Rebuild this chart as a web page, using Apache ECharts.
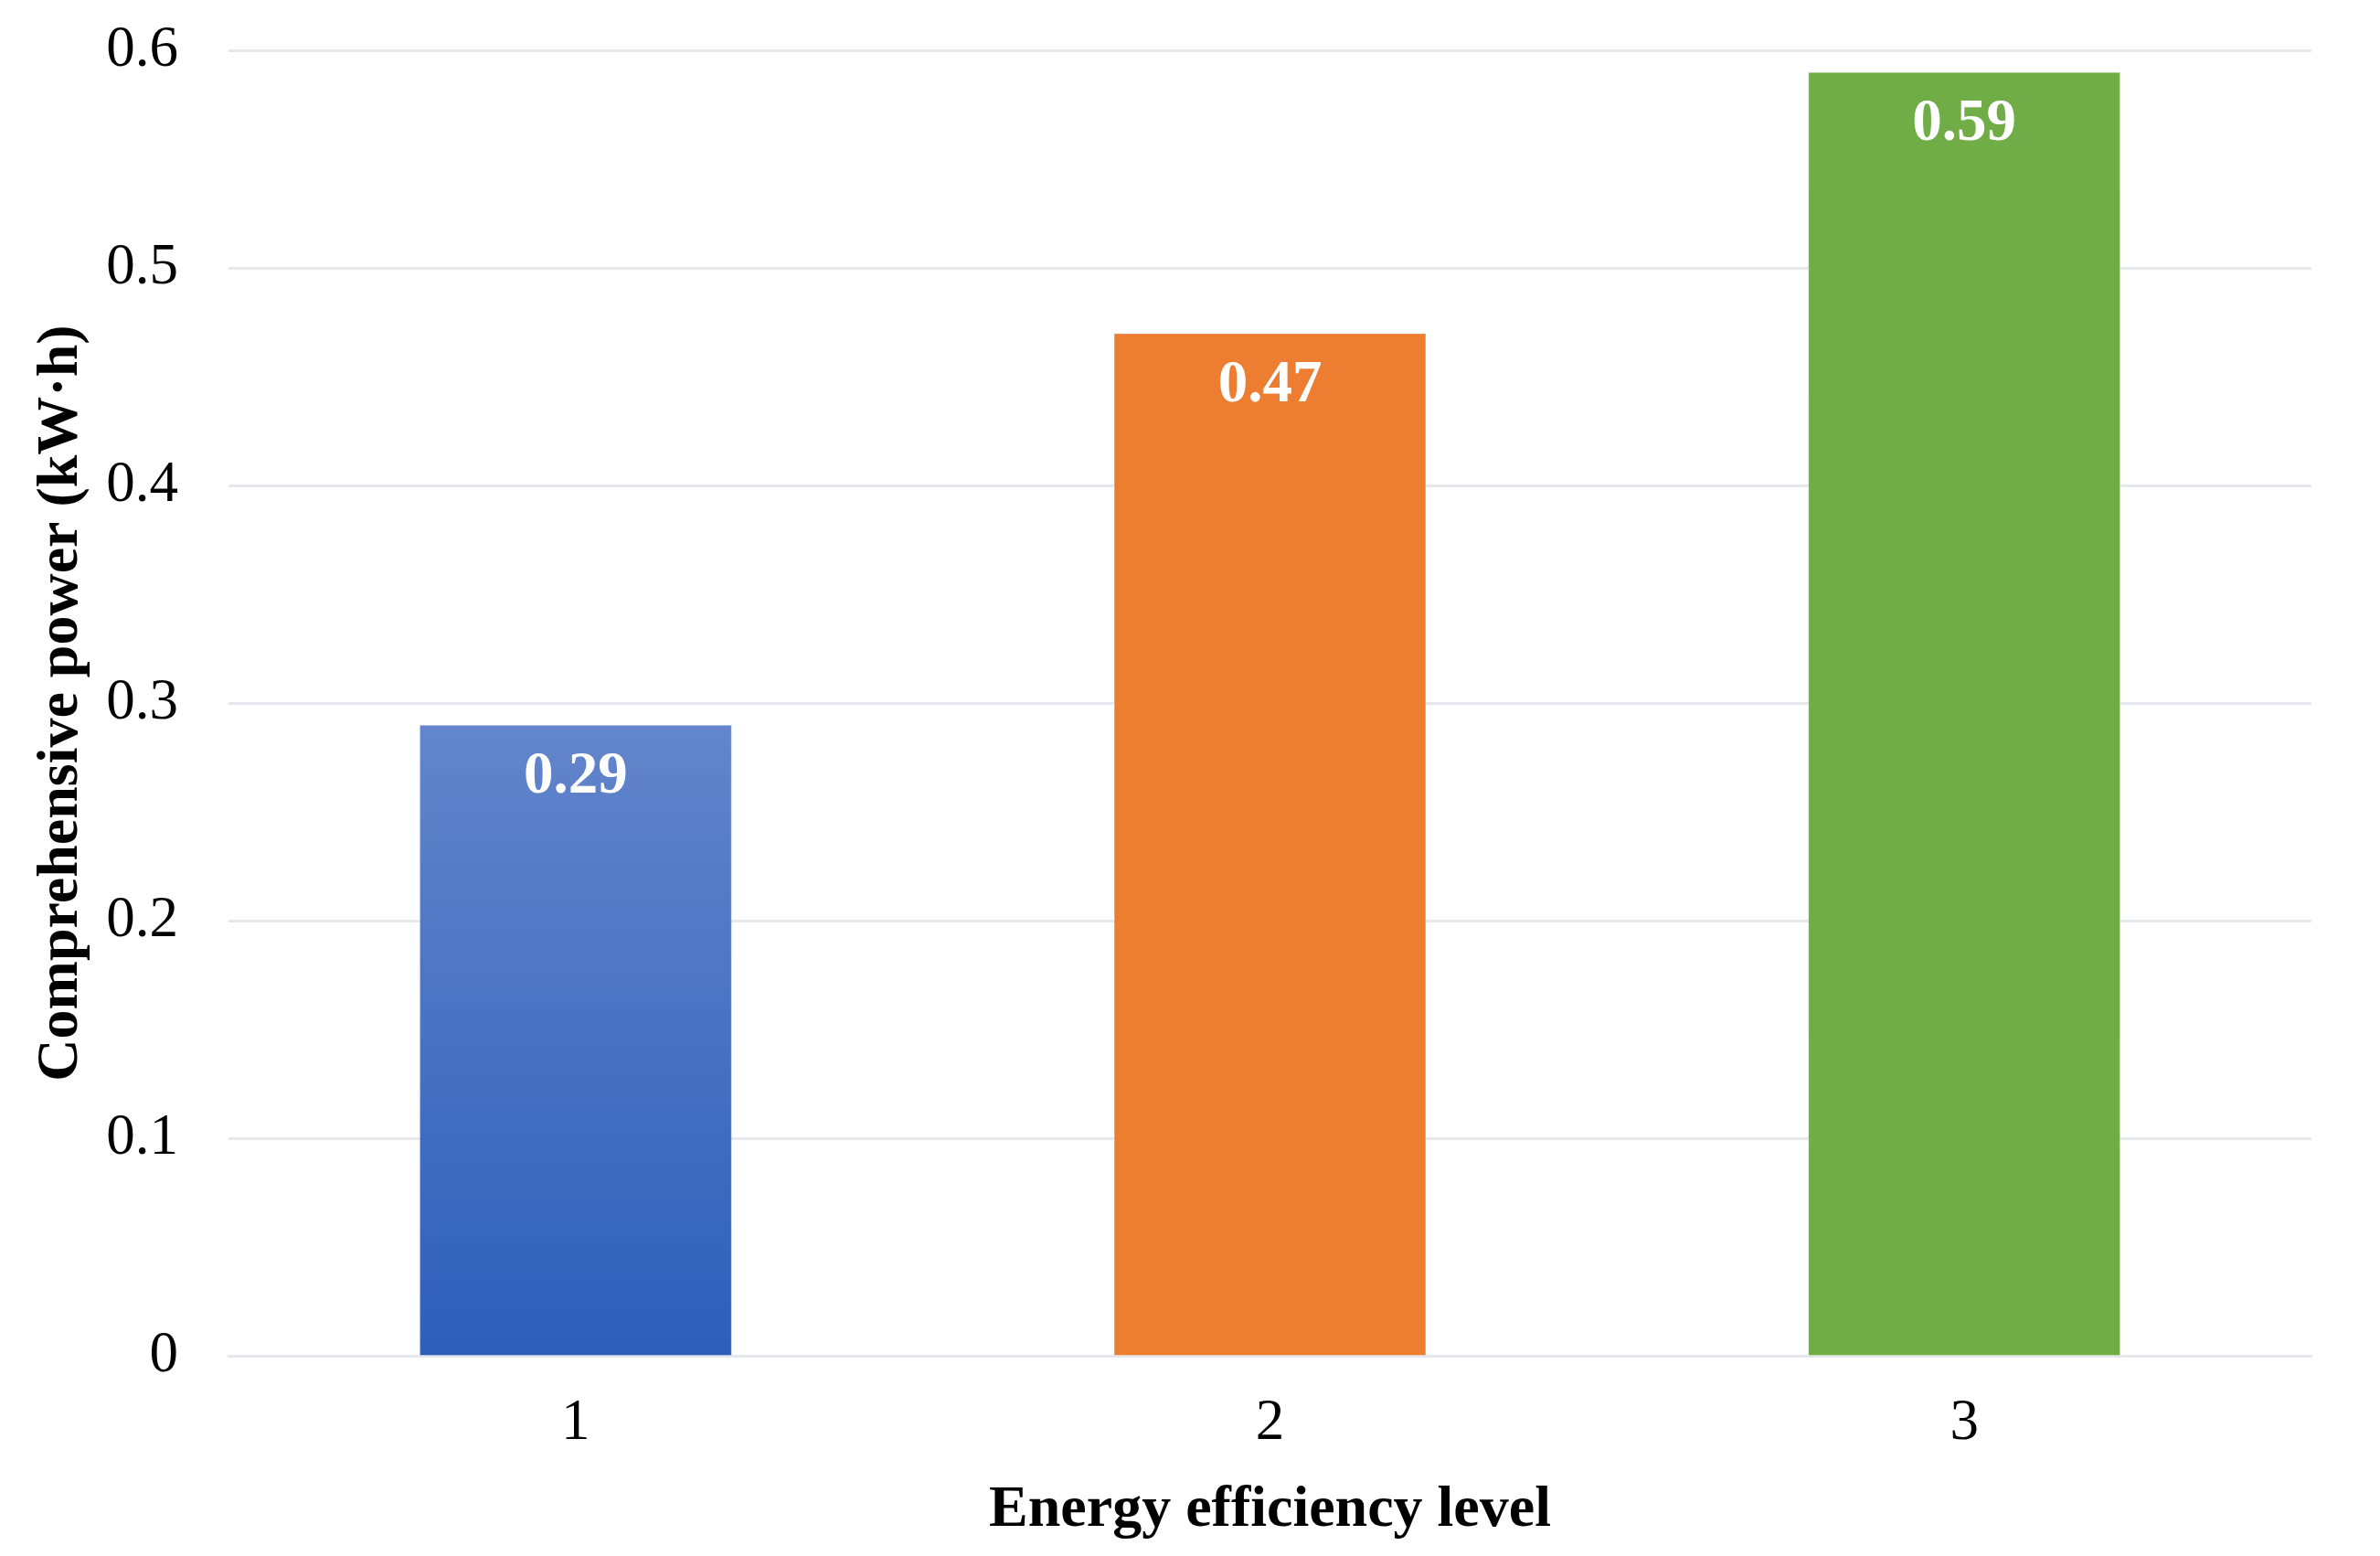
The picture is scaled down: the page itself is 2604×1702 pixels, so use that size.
<!DOCTYPE html>
<html>
<head>
<meta charset="utf-8">
<script src="https://cdn.jsdelivr.net/npm/echarts@6/dist/echarts.min.js"></script>
<style>
html,body{margin:0;padding:0;background:#fff;}
#c{width:2604px;height:1702px;}
</style>
</head>
<body>
<div id="c"></div>
<script>
const categories = ['1', '2', '3'];
const values = [0.29, 0.47, 0.59];
const yTicks = [0, 0.1, 0.2, 0.3, 0.4, 0.5, 0.6];
const xAxisName = 'Energy efficiency level';
const yAxisName = 'Comprehensive power (kW\u00b7h)';

const FONT = "'Times New Roman', 'Liberation Serif', serif";
const barFills = [
  new echarts.graphic.LinearGradient(0, 0, 0, 1, [
    {offset: 0, color: '#6385CB'},
    {offset: 1, color: '#2D5FBA'}
  ]),
  '#ED7D31',
  '#70AD47'
];

const chart = echarts.init(document.getElementById('c'));
chart.setOption({
  backgroundColor: '#ffffff',
  animation: false,
  grid: {left: 250, right: 75, top: 55, bottom: 219, containLabel: false},
  xAxis: {
    type: 'category',
    data: categories,
    name: xAxisName,
    nameLocation: 'middle',
    nameGap: 137,
    nameTextStyle: {fontFamily: FONT, fontWeight: 'bold', fontSize: 64, color: '#000'},
    axisLine: {show: true, lineStyle: {color: '#E4E7EC', width: 3}},
    axisTick: {show: false},
    axisLabel: {fontFamily: FONT, fontSize: 63, color: '#000', margin: 43},
  },
  yAxis: {
    type: 'value',
    min: yTicks[0],
    max: yTicks[yTicks.length - 1],
    interval: 0.1,
    name: yAxisName,
    nameLocation: 'middle',
    nameGap: 151,
    nameTextStyle: {fontFamily: FONT, fontWeight: 'bold', fontSize: 64, color: '#000'},
    axisLine: {show: false},
    axisTick: {show: false},
    splitLine: {show: true, lineStyle: {color: '#E4E7EC', width: 3}},
    axisLabel: {fontFamily: FONT, fontSize: 63, color: '#000', margin: 55,
      formatter: v => String(Math.round(v * 10) / 10)}
  },
  series: [{
    type: 'bar',
    barWidth: '45%',
    data: values.map((v, i) => ({value: v, itemStyle: {color: barFills[i]}})),
    itemStyle: {borderColor: 'rgba(255,255,255,0.35)', borderWidth: 1},
    label: {
      show: true,
      position: 'insideTop',
      distance: 25,
      fontFamily: FONT,
      fontWeight: 'bold',
      fontSize: 65,
      color: '#ffffff'
    }
  }]
});
</script>
</body>
</html>
